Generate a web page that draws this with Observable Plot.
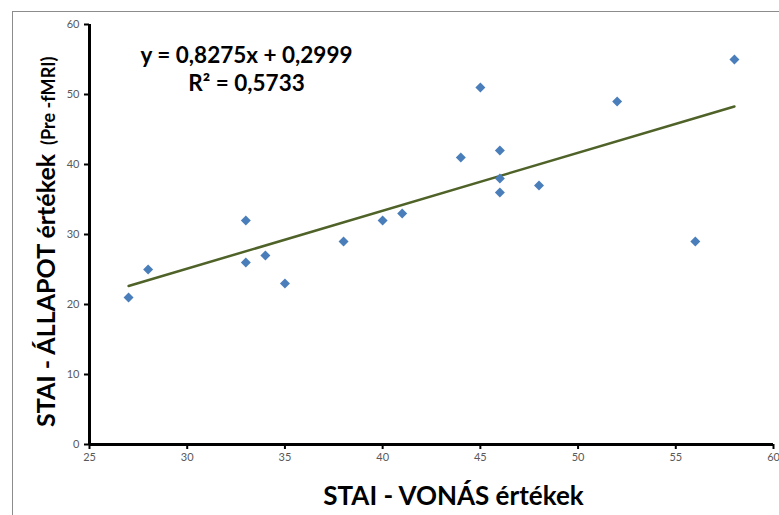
<!DOCTYPE html>
<html>
<head>
<meta charset="utf-8">
<script src="https://cdn.jsdelivr.net/npm/d3@7"></script>
<script src="https://cdn.jsdelivr.net/npm/@observablehq/plot@0.6"></script>
<style>
  html, body { margin: 0; padding: 0; background: #fff; }
  #wrap { position: relative; width: 779px; height: 515px; overflow: hidden; }
  #border { position: absolute; left: 12px; top: 11px; right: -2px; bottom: -2px; border-top: 1.5px solid #8c8c8c; border-left: 1.5px solid #8c8c8c; pointer-events: none; }
</style>
</head>
<body>
<div id="wrap"><div id="border"></div></div>
<script>
// Data
const vonas   = [27, 28, 33, 33, 34, 35, 38, 40, 41, 44, 45, 46, 46, 46, 48, 52, 56, 58];
const allapot = [21, 25, 32, 26, 27, 23, 29, 32, 33, 41, 51, 42, 38, 36, 37, 49, 29, 55];
const slope = 0.8275;
const intercept = 0.2999;
const xTicks = [25, 30, 35, 40, 45, 50, 55, 60];
const yTicks = [0, 10, 20, 30, 40, 50, 60];
const equationText = "y = 0,8275x + 0,2999";
const r2Text = "R² = 0,5733";
const xTitle = "STAI - VONÁS értékek";
const yTitleMain = "STAI - ÁLLAPOT értékek";
const yTitleSub = "(Pre -fMRI)";

const points = vonas.map((v, i) => ({x: v, y: allapot[i]}));
const xMin = d3.min(vonas), xMax = d3.max(vonas);
const trend = [xMin, xMax].map(x => ({x, y: slope * x + intercept}));

const font = "Lato, 'Open Sans', sans-serif";

const chart = Plot.plot({
  width: 779,
  height: 515,
  marginLeft: 89,
  marginRight: 6,
  marginTop: 24,
  marginBottom: 71,
  style: {fontFamily: font, fontSize: "11px", background: "transparent"},
  x: {domain: [25, 60], label: null},
  y: {domain: [0, 60], label: null},
  marks: [
    Plot.axisX({ticks: xTicks, tickSize: 5, tickPadding: 4, stroke: "#000", strokeWidth: 2, fill: "#595959", label: null}),
    Plot.axisY({ticks: yTicks, tickSize: 5, tickPadding: 5, stroke: "#000", strokeWidth: 2, fill: "#595959", label: null}),
    Plot.ruleY([0], {stroke: "#000", strokeWidth: 3}),
    Plot.ruleX([25], {stroke: "#000", strokeWidth: 3}),
    Plot.line(trend, {x: "x", y: "y", stroke: "#4f6228", strokeWidth: 2.5}),
    Plot.dot(points, {x: "x", y: "y", symbol: "diamond2", r: 4.5, fill: "#4a7ebb", stroke: "none"}),
    Plot.text([equationText], {frameAnchor: "top-left", dx: 157, dy: 31, text: d => d, fontSize: 22.5, fontWeight: "bold", fill: "#000", textAnchor: "middle", lineAnchor: "middle"}),
    Plot.text([r2Text], {frameAnchor: "top-left", dx: 157, dy: 59, text: d => d, fontSize: 22.5, fontWeight: "bold", fill: "#000", textAnchor: "middle", lineAnchor: "middle"}),
    Plot.text([xTitle], {frameAnchor: "bottom", dx: 22, dy: 52, text: d => d, fontSize: 26, fontWeight: "bold", fill: "#000", textAnchor: "middle", lineAnchor: "middle"})
  ]
});

const svg = d3.select(chart);
const yl = svg.append("text")
  .attr("transform", "translate(55,427) rotate(-90)")
  .attr("text-anchor", "start")
  .attr("font-family", font)
  .attr("font-weight", "bold")
  .attr("fill", "#000");
yl.append("tspan").attr("font-size", 25).text(yTitleMain);
yl.append("tspan").attr("font-size", 18).attr("dx", 9).text(yTitleSub);

document.getElementById("wrap").prepend(chart);
</script>
</body>
</html>
